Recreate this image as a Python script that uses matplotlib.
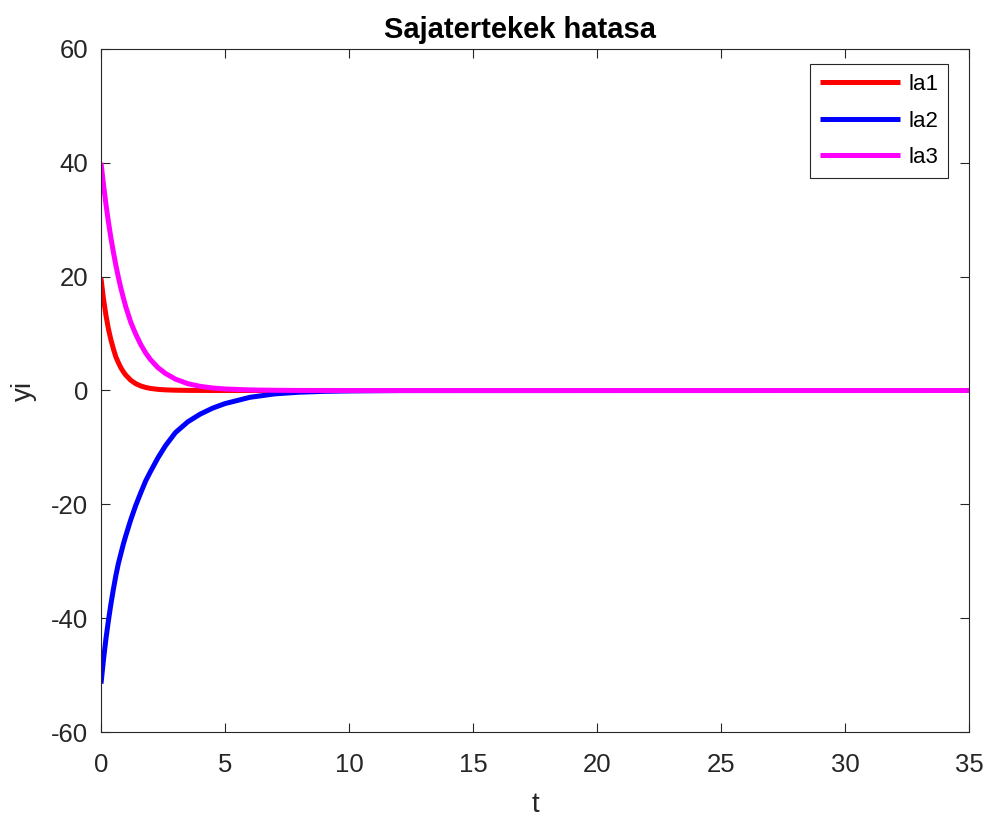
import numpy as np
import matplotlib
matplotlib.use("Agg")
import matplotlib.pyplot as plt

# time samples and the three eigenvalue responses
t = [0, 0.1, 0.2, 0.3, 0.4, 0.5, 0.6, 0.7, 0.8, 0.9, 1.0, 1.2, 1.4, 1.6,
     1.8, 2.0, 2.3, 2.6, 3.0, 3.5, 4.0, 4.5, 5.0, 6.0, 7.0, 8.0, 9.0, 10.0,
     12.0, 35.0]
la1 = [19.7, 16.1, 13.2, 10.8, 8.9, 7.3, 5.9, 4.9, 4.0, 3.3, 2.7, 1.8, 1.2,
       0.8, 0.54, 0.36, 0.2, 0.11, 0.05, 0.02, 0.01, 0.0, 0.0, 0.0, 0.0,
       0.0, 0.0, 0.0, 0.0, 0.0]
la2 = [-51.5, -47.3, -43.6, -40.4, -37.5, -34.9, -32.5, -30.4, -28.7, -27.0,
       -25.5, -22.7, -20.2, -18.0, -15.9, -14.2, -11.8, -9.7, -7.4, -5.5,
       -4.15, -3.1, -2.3, -1.2, -0.6, -0.3, -0.15, -0.08, -0.02, 0.0]
la3 = [40.0, 36.2, 32.7, 29.6, 26.8, 24.3, 22.0, 19.9, 18.0, 16.3, 14.7,
       12.0, 9.9, 8.1, 6.6, 5.4, 4.0, 3.0, 2.0, 1.2, 0.73, 0.44, 0.27, 0.1,
       0.04, 0.01, 0.005, 0.0, 0.0, 0.0]

series = [("la1", la1, "#ff0000"), ("la2", la2, "#0000ff"), ("la3", la3, "#ff00ff")]

plt.rcParams["font.family"] = ["Liberation Sans", "DejaVu Sans"]
plt.rcParams["axes.unicode_minus"] = False

axis_col = "#262626"

fig = plt.figure(figsize=(9.88, 8.21), dpi=100)
ax = fig.add_axes([101 / 988, 1 - 732 / 821, 868 / 988, 683 / 821])

for name, y, col in series:
    ax.plot(t, y, color=col, linewidth=3.6, label=name, solid_capstyle="butt",
            solid_joinstyle="round")

ax.set_xlim(0, 35)
ax.set_ylim(-60, 60)
ax.set_xticks(np.arange(0, 36, 5))
ax.set_yticks(np.arange(-60, 61, 20))

ax.tick_params(direction="in", length=6.5, width=0.8, colors=axis_col,
               labelsize=18.5, top=True, right=True)
ax.tick_params(axis="x", pad=15)
ax.tick_params(axis="y", pad=9)
for s in ax.spines.values():
    s.set_color(axis_col)
    s.set_linewidth(0.8)

ax.set_title("Sajatertekek hatasa", fontsize=21, fontweight="bold", pad=8,
             x=0.483)
ax.set_xlabel("t", fontsize=20, color=axis_col, labelpad=11)
ax.set_ylabel("yi", fontsize=20, color=axis_col, labelpad=10)

leg = ax.legend(loc="upper right", bbox_to_anchor=(948 / 988, 1 - 64 / 821),
                bbox_transform=fig.transFigure, fontsize=16, frameon=True,
                fancybox=False, framealpha=1, edgecolor=axis_col,
                handlelength=3.6, handletextpad=0.35, labelspacing=0.7,
                borderpad=0.45, borderaxespad=0)
leg.get_frame().set_linewidth(0.8)

fig.savefig("out.png", dpi=100)
